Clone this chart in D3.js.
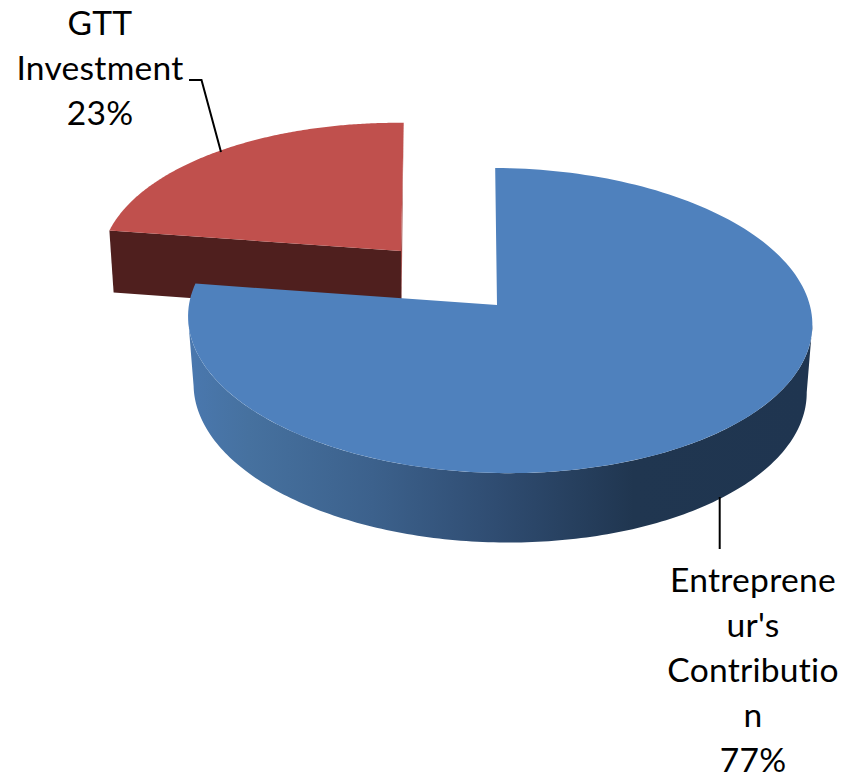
<!DOCTYPE html>
<html><head><meta charset="utf-8">
<script src="https://cdn.jsdelivr.net/npm/d3@7"></script>
<style>html,body{margin:0;background:#fff}svg{display:block}</style></head>
<body><div id="c"></div>
<script>
const categories = ["Entrepreneur's Contribution", "GTT Investment"];
const values = [77, 23];
const labelLines = [["Entreprene","ur's","Contributio","n","77%"],["GTT","Investment","23%"]];
const topColors = ["#4f81bd","#c0504d"];

const W=844,H=779;
const svg=d3.select("#c").append("svg").attr("width",W).attr("height",H);
const pie=d3.pie().sort(null).value(d=>d)(values);

// perspective disc: returns a projector for one plane of a slice
function disc(o){
  const x=d3.scaleLinear([-1,1],[o.ax-o.rx,o.ax+o.rx]);
  const y=d3.scaleLinear([-1,1],[o.ay-o.ry,o.ay+o.ry]);
  return a=>{
    const u=Math.sin(a),v=-Math.cos(a),w=1-o.k*v-o.j*u;
    return [x(u/w)+o.sx*(-v)/w, y(v/w)+o.t*u/w];
  };
}
const blueTop={ax:497,ay:305,rx:310.5,ry:151,k:.1016,j:.0096,sx:-2,t:3};
const blueBot={ax:497,ay:373,rx:305,ry:152.5,k:.1,j:.0096,sx:-2,t:3};
const redTop={ax:401,ay:251,rx:298,ry:141,k:.1,j:0,sx:3,t:3};
const redBot={ax:401.5,ay:313,rx:294,ry:141,k:.1,j:0,sx:1.5,t:3};

const line=d3.line();
const rad=d3.scaleLinear([0,360],[0,2*Math.PI]);
const sweep=(a0,a1)=>d3.range(0,181).map(i=>a0+(a1-a0)*i/180);

const defs=svg.append("defs");
const grad=defs.append("linearGradient").attr("id","side").attr("gradientUnits","userSpaceOnUse")
  .attr("x1",blueTop.ax-blueTop.rx).attr("x2",blueTop.ax+blueTop.rx).attr("y1",0).attr("y2",0);
[[0,"#4a78af"],[.1,"#46719f"],[.3,"#3c618c"],[.5,"#2f4c71"],[.72,"#203650"],[1,"#1f3550"]]
  .forEach(s=>grad.append("stop").attr("offset",s[0]).attr("stop-color",s[1]));

// red slice
{
  const p=pie[1],T=disc(redTop),B=disc(redBot),a0=p.startAngle,a1=p.endAngle;
  const apexT=[redTop.ax,redTop.ay],apexB=[redBot.ax,redBot.ay];
  svg.append("path").attr("d",line([T(a1),apexT,apexB,B(a1)])+"Z").attr("fill","#a54e4b");
  svg.append("path").attr("d",line([T(a0),apexT,apexB,B(a0)])+"Z").attr("fill","#4f1f1e");
  svg.append("path").attr("d",line([apexT,...sweep(a0,a1).map(T)])+"Z").attr("fill",topColors[1]);
}
// blue slice
{
  const p=pie[0],T=disc(blueTop),B=disc(blueBot);
  const a0=rad(96),a1=rad(264);
  svg.append("path").attr("d",line([...sweep(a0,a1).map(T),...sweep(a1,a0).map(B)])+"Z").attr("fill","url(#side)");
  svg.append("path").attr("d",line([[blueTop.ax,blueTop.ay],...sweep(p.startAngle,p.endAngle).map(T)])+"Z").attr("fill",topColors[0]);
}
// leaders
const leaders=[[[189,80],[201.5,80],[221,152]],[[719.7,497],[719.7,549]]];
leaders.forEach(l=>svg.append("path").attr("d",line(l)).attr("fill","none").attr("stroke","#000").attr("stroke-width",2));
// labels
const labelPos=[{x:753,y:591.5},{x:100,y:35}];
labelLines.forEach((ls,i)=>ls.forEach((t,j)=>svg.append("text")
  .attr("x",labelPos[i].x).attr("y",labelPos[i].y+j*45.1)
  .attr("text-anchor","middle").attr("font-family","Lato").attr("font-size",33.6)
  .attr("letter-spacing",0.25).attr("fill","#000").text(t)));
</script></body></html>
